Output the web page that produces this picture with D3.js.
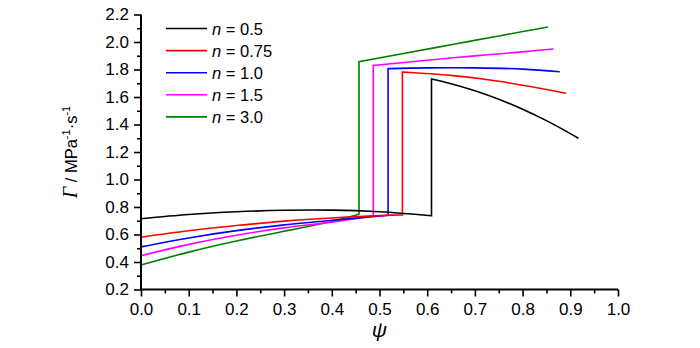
<!DOCTYPE html>
<html>
<head>
<meta charset="utf-8">
<script src="https://cdn.jsdelivr.net/npm/d3@7"></script>
<style>
  body { margin: 0; background: #fff; }
  svg text { font-family: "Liberation Sans", Arial, sans-serif; }
</style>
</head>
<body>
<svg id="chart" width="700" height="348"></svg>
<script>
// Power-law index n for each curve (legend text)
const nLabels = ["0.5", "0.75", "1.0", "1.5", "3.0"];

// Each series: lower branch before the jump, upper branch after it; [psi, Gamma]
const lowerN05 = [[0, 0.715], [0.1, 0.745], [0.2, 0.765], [0.3, 0.776], [0.4, 0.777], [0.5, 0.765], [0.609, 0.736]];
const upperN05 = [[0.609, 1.731], [0.65, 1.697], [0.70, 1.646], [0.75, 1.584], [0.80, 1.511], [0.85, 1.428], [0.90, 1.334], [0.917, 1.30]];

const lowerN075 = [[0, 0.58], [0.1, 0.627], [0.2, 0.665], [0.3, 0.697], [0.4, 0.72], [0.5, 0.737], [0.548, 0.743]];
const upperN075 = [[0.548, 1.782], [0.65, 1.757], [0.75, 1.714], [0.85, 1.654], [0.891, 1.627]];

const lowerN10 = [[0, 0.51], [0.1, 0.575], [0.2, 0.628], [0.3, 0.67], [0.4, 0.703], [0.518, 0.74]];
const upperN10 = [[0.518, 1.806], [0.6, 1.812], [0.7, 1.812], [0.8, 1.803], [0.878, 1.784]];

const lowerN15 = [[0, 0.445], [0.1, 0.528], [0.2, 0.595], [0.3, 0.648], [0.4, 0.69], [0.487, 0.737]];
const upperN15 = [[0.487, 1.83], [0.6, 1.867], [0.7, 1.899], [0.8, 1.928], [0.865, 1.949]];

const lowerN30 = [[0, 0.378], [0.1, 0.472], [0.2, 0.553], [0.3, 0.624], [0.4, 0.695], [0.457, 0.747]];
const upperN30 = [[0.457, 1.857], [0.55, 1.916], [0.65, 1.98], [0.75, 2.044], [0.853, 2.109]];

// Axis ticks
const xMajorTicks = [0, 0.1, 0.2, 0.3, 0.4, 0.5, 0.6, 0.7, 0.8, 0.9, 1.0];
const xMinorTicks = [0.05, 0.15, 0.25, 0.35, 0.45, 0.55, 0.65, 0.75, 0.85, 0.95];
const yMajorTicks = [0.2, 0.4, 0.6, 0.8, 1.0, 1.2, 1.4, 1.6, 1.8, 2.0, 2.2];
const yMinorTicks = [0.3, 0.5, 0.7, 0.9, 1.1, 1.3, 1.5, 1.7, 1.9, 2.1];

const lowerBranches = [lowerN05, lowerN075, lowerN10, lowerN15, lowerN30];
const upperBranches = [upperN05, upperN075, upperN10, upperN15, upperN30];
const colors = ["#000000", "#ff0000", "#0000ff", "#ff00ff", "#008000"];

const svg = d3.select("#chart");
const x = d3.scaleLinear().domain([0, 1]).range([141, 618]);
const y = d3.scaleLinear().domain([0.2, 2.2]).range([289.5, 14.5]);

const line = d3.line()
  .x(d => x(d[0]))
  .y(d => y(d[1]))
  .curve(d3.curveNatural);

// Curves: lower branch, vertical jump, upper branch
const plot = svg.append("g");
for (let i = lowerBranches.length - 1; i >= 0; i--) {
  const lo = lowerBranches[i], up = upperBranches[i];
  plot.append("path")
    .attr("fill", "none")
    .attr("stroke", colors[i])
    .attr("stroke-width", 1.6)
    .attr("stroke-linejoin", "miter")
    .attr("d", line(lo) + line(up).replace(/^M/, "L"));
}

// Y axis
const yAxisMajor = d3.axisLeft(y).tickValues(yMajorTicks).tickSize(7).tickPadding(5).tickFormat(d3.format(".1f"));
const yAxisMinor = d3.axisLeft(y).tickValues(yMinorTicks).tickSize(4).tickFormat("");
const gy = svg.append("g").attr("transform", "translate(141,0)").call(yAxisMajor);
svg.append("g").attr("transform", "translate(141,0)").call(yAxisMinor).select(".domain").remove();

// X axis
const xAxisMajor = d3.axisBottom(x).tickValues(xMajorTicks).tickSize(7).tickPadding(6).tickFormat(d3.format(".1f"));
const xAxisMinor = d3.axisBottom(x).tickValues(xMinorTicks).tickSize(4).tickFormat("");
const gx = svg.append("g").attr("transform", "translate(0,289.5)").call(xAxisMajor);
svg.append("g").attr("transform", "translate(0,289.5)").call(xAxisMinor).select(".domain").remove();

svg.selectAll(".domain").attr("stroke", "#000").attr("stroke-width", 2);
svg.selectAll(".tick line").attr("stroke", "#000").attr("stroke-width", 1.6);
svg.selectAll(".tick text")
  .attr("font-family", "'Liberation Sans', Arial, sans-serif")
  .attr("font-size", 17)
  .attr("fill", "#000");
gy.selectAll(".domain").attr("d", `M0,${y(0.2)}V${y(2.2)}`);
gx.selectAll(".domain").attr("d", `M${x(0)},0H${x(1)}`);

// Axis titles
svg.append("text")
  .attr("x", x(0.5)).attr("y", 337)
  .attr("text-anchor", "middle")
  .attr("font-family", "'Liberation Serif', 'Times New Roman', serif")
  .attr("font-style", "italic")
  .attr("font-size", 21)
  .text("ψ");

const yTitle = svg.append("text")
  .attr("transform", "translate(77,152) rotate(-90)")
  .attr("text-anchor", "middle")
  .attr("font-size", 16.5);
yTitle.append("tspan")
  .attr("font-family", "'Liberation Serif', 'Times New Roman', serif")
  .attr("font-style", "italic").attr("font-size", 20).text("Γ");
yTitle.append("tspan").text(" / MPa");
yTitle.append("tspan").attr("font-size", 11).attr("dy", -7).text("-1");
yTitle.append("tspan").attr("dy", 7).text("·s");
yTitle.append("tspan").attr("font-size", 11).attr("dy", -7).text("-1");

// Legend
const legend = svg.append("g");
nLabels.forEach((lab, i) => {
  const ly = 28.5 + i * 22.1;
  legend.append("line")
    .attr("x1", 166).attr("x2", 207).attr("y1", ly).attr("y2", ly)
    .attr("stroke", colors[i]).attr("stroke-width", 1.6);
  const t = legend.append("text")
    .attr("x", 212).attr("y", ly + 6)
    .attr("font-size", 16.5);
  t.append("tspan").attr("font-style", "italic").text("n");
  t.append("tspan").text(" = " + lab);
});
</script>
</body>
</html>
